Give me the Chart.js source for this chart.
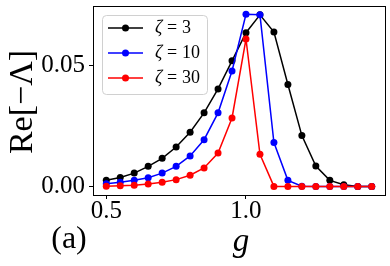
<!DOCTYPE html>
<html>
<head>
<meta charset="utf-8">
<script src="https://cdn.jsdelivr.net/npm/chart.js@4"></script>
<style>
  html, body { margin: 0; padding: 0; background: #fff; }
  #wrap { width: 390px; height: 266px; }
</style>
</head>
<body>
<div id="wrap"><canvas id="chart"></canvas></div>
<script>
const gValues = [0.5, 0.55, 0.6, 0.65, 0.7, 0.75, 0.8, 0.85, 0.9, 0.95, 1.0, 1.05, 1.1, 1.15, 1.2, 1.25, 1.3, 1.35, 1.4, 1.45];
const zeta3 = [0.0025, 0.0037, 0.0055, 0.0083, 0.0116, 0.0163, 0.0224, 0.0304, 0.0403, 0.0519, 0.0635, 0.0709, 0.0638, 0.0421, 0.0210, 0.0084, 0.0025, 0.0007, 0.0, 0.0];
const zeta10 = [0.0011, 0.0017, 0.0025, 0.0036, 0.0055, 0.0083, 0.0126, 0.0193, 0.0304, 0.0477, 0.0711, 0.0709, 0.0181, 0.0025, 0.0001, 0.0, 0.0, 0.0, 0.0, 0.0];
const zeta30 = [0.0001, 0.0003, 0.0005, 0.0010, 0.0017, 0.0028, 0.0046, 0.0076, 0.0138, 0.0283, 0.0609, 0.0133, 0.0, 0.0, 0.0, 0.0, 0.0, 0.0, 0.0, 0.0];
const zetaLabels = ['3', '10', '30'];
const xTicks = [0.5, 1.0];
const yTicks = [0.0, 0.05];

const serif = 'Liberation Serif';
Chart.defaults.font.family = serif;
Chart.defaults.color = '#000';

function pts(ys) {
  return gValues.map((g, i) => ({ x: g, y: ys[i] }));
}

function series(label, ys, color, order) {
  return {
    label: label,
    data: pts(ys),
    borderColor: color,
    backgroundColor: color,
    borderWidth: 1.5,
    pointRadius: 3.5,
    pointBorderWidth: 0,
    tension: 0,
    clip: false,
    order: order,
  };
}

// frame, legend box and the free text (titles, panel tag)
const decorations = {
  id: 'decorations',
  afterDatasetsDraw(chart) {
    const ctx = chart.ctx;
    const a = chart.chartArea;
    ctx.save();
    ctx.strokeStyle = '#000';
    ctx.lineWidth = 1;
    ctx.strokeRect(a.left + 0.5, a.top + 0.5, a.right - a.left, a.bottom - a.top);

    // legend
    const bx = 102, by = 15, bw = 105, bh = 79;
    ctx.beginPath();
    ctx.roundRect(bx + 0.5, by + 0.5, bw, bh, 4);
    ctx.fillStyle = 'rgba(255,255,255,0.8)';
    ctx.fill();
    ctx.strokeStyle = '#d0d0d0';
    ctx.stroke();
    chart.data.datasets.forEach((ds, i) => {
      const y = 28 + i * 25;
      ctx.strokeStyle = ds.borderColor;
      ctx.lineWidth = 1.5;
      ctx.beginPath();
      ctx.moveTo(108, y);
      ctx.lineTo(143, y);
      ctx.stroke();
      ctx.fillStyle = ds.borderColor;
      ctx.beginPath();
      ctx.arc(125.5, y, 3.5, 0, Math.PI * 2);
      ctx.fill();
      ctx.fillStyle = '#000';
      ctx.textBaseline = 'middle';
      ctx.textAlign = 'left';
      ctx.font = 'italic 18px ' + serif;
      ctx.fillText('\u03b6', 155, y);
      ctx.font = '18px ' + serif;
      ctx.fillText('=', 167, y);
      ctx.fillText(zetaLabels[i], 182, y);
    });

    ctx.fillStyle = '#000';
    ctx.textAlign = 'center';
    ctx.textBaseline = 'alphabetic';
    ctx.font = 'italic 33px ' + serif;
    ctx.fillText('g', 241, 251);
    ctx.font = '32px ' + serif;
    ctx.fillText('(a)', 69, 247.5);
    ctx.translate(31.5, 102);
    ctx.rotate(-Math.PI / 2);
    ctx.font = '34px ' + serif;
    ctx.fillText('Re[\u2212\u039b]', 0, 0);
    ctx.restore();
  },
};

new Chart(document.getElementById('chart'), {
  type: 'line',
  data: {
    datasets: [
      series('\u03b6=3', zeta3, '#000000', 3),
      series('\u03b6=10', zeta10, '#0000ff', 2),
      series('\u03b6=30', zeta30, '#ff0000', 1),
    ],
  },
  options: {
    responsive: true,
    maintainAspectRatio: false,
    animation: false,
    layout: { padding: { top: 6, right: 5, left: 0, bottom: 0 } },
    scales: {
      x: {
        type: 'linear',
        min: 0.4525,
        max: 1.4975,
        afterBuildTicks: (scale) => { scale.ticks = xTicks.map(v => ({ value: v })); },
        afterFit: (scale) => { scale.height = 71; scale.paddingLeft = 0; scale.paddingRight = 0; },
        grid: { drawOnChartArea: false, drawTicks: true, tickLength: 4, color: '#000' },
        border: { color: '#000' },
        ticks: {
          color: '#000',
          padding: 0,
          maxRotation: 0,
          font: { family: serif, size: 25, lineHeight: 1 },
          callback: (v) => Number(v).toFixed(1),
        },
      },
      y: {
        min: -0.00355,
        max: 0.07455,
        afterBuildTicks: (scale) => { scale.ticks = yTicks.map(v => ({ value: v })); },
        afterFit: (scale) => { scale.width = 93; scale.paddingTop = 0; scale.paddingBottom = 0; },
        grid: { drawOnChartArea: false, drawTicks: true, tickLength: 4, color: '#000' },
        border: { color: '#000' },
        ticks: {
          color: '#000',
          padding: 4,
          font: { family: serif, size: 25, lineHeight: 1 },
          callback: (v) => Number(v).toFixed(2),
        },
      },
    },
    plugins: {
      legend: { display: false },
      tooltip: { enabled: false },
    },
  },
  plugins: [decorations],
});
</script>
</body>
</html>
